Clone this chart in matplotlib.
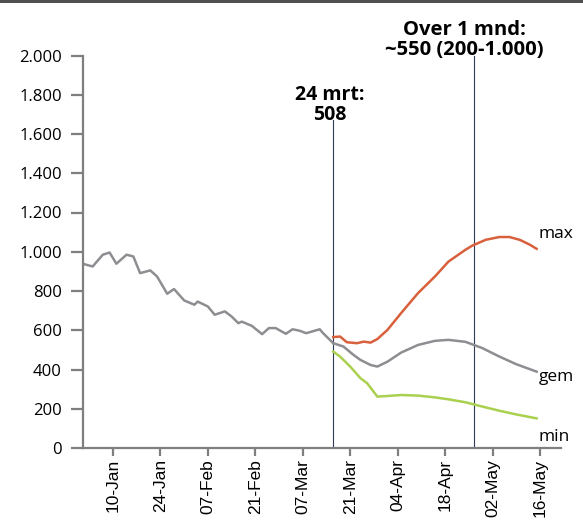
import numpy as np
import matplotlib
matplotlib.use("Agg")
import matplotlib.pyplot as plt
import matplotlib.dates as mdates
from matplotlib.ticker import FuncFormatter, FixedLocator
from matplotlib.patches import Rectangle

# ---- data (days counted from 2021-01-01) ----
hist_days = [0, 3, 6, 8, 10, 13, 15, 17, 20, 22, 25, 27, 30, 33, 34, 37, 39, 42, 44,
             46, 47, 50, 53, 55, 57, 60, 62, 64, 66, 70, 71, 74]
hist_vals = [939, 925, 985, 996, 939, 985, 976, 891, 905, 874, 786, 810, 752, 730, 746,
             721, 679, 696, 670, 636, 644, 622, 580, 611, 611, 582, 605, 598, 585, 605,
             585, 534]

gem_days = [74, 77, 80, 82, 85, 87, 90, 94, 99, 104, 108, 113, 118, 123, 128, 134]
gem_vals = [534, 517, 474, 449, 423, 415, 440, 486, 525, 546, 551, 541, 509, 466, 427, 389]

max_days = [74, 76, 78, 81, 83, 85, 87, 90, 94, 99, 104, 108, 113, 115, 119, 123, 126,
            129, 132, 134]
max_vals = [565, 568, 539, 534, 542, 537, 555, 602, 687, 789, 874, 950, 1010, 1031, 1061,
            1075, 1075, 1061, 1036, 1015]

min_days = [74, 76, 79, 82, 84, 87, 90, 94, 99, 104, 108, 113, 118, 123, 128, 134]
min_vals = [491, 466, 415, 356, 330, 262, 265, 270, 267, 258, 248, 233, 211, 190, 171, 151]

tick_labels = ["10-Jan", "24-Jan", "07-Feb", "21-Feb", "07-Mar", "21-Mar", "04-Apr",
               "18-Apr", "02-May", "16-May"]
y_ticks = [0, 200, 400, 600, 800, 1000, 1200, 1400, 1600, 1800, 2000]

marker1_day, marker1_top = 74, 1670
marker2_day, marker2_top = 115.5, 2000
marker1_text = "24 mrt:\n508"
marker2_text = "Over 1 mnd:\n~550 (200-1.000)"

base = mdates.date2num(np.datetime64("2021-01-01"))


def to_dates(days):
    return base + np.asarray(days, dtype=float)


fig = plt.figure(figsize=(5.83, 5.26), dpi=100)
ax = fig.add_axes([82.5 / 583, 1 - 448 / 526, (561 - 82.5) / 583, (448 - 55.5) / 526])

gray = "#8e8e92"
red = "#d8603c"
green = "#a9d04e"
navy = "#2e3a55"
spine_c = "#7f7f7f"

ax.plot(to_dates(hist_days), hist_vals, color=gray, lw=1.8, solid_joinstyle="round")
ax.plot(to_dates(gem_days), gem_vals, color=gray, lw=1.8)
ax.plot(to_dates(max_days), max_vals, color=red, lw=1.8)
ax.plot(to_dates(min_days), min_vals, color=green, lw=1.8)

for d, top in [(marker1_day, marker1_top), (marker2_day, marker2_top)]:
    x = to_dates([d])[0]
    ax.plot([x, x], [0, top], color=navy, lw=0.8, clip_on=False, zorder=1)

ax.text(to_dates([marker1_day])[0] - 1, marker1_top - 25, marker1_text, ha="center",
        va="bottom", fontsize=14, fontweight="bold", family="Open Sans",
        linespacing=1.0)
ax.text(to_dates([marker2_day])[0] - 2.8, marker2_top - 25, marker2_text, ha="center",
        va="bottom", fontsize=14.6, fontweight="bold", family="Open Sans",
        linespacing=1.05, clip_on=False)

# series labels
lbl_x = to_dates([134.6])[0]
ax.text(lbl_x, 1090, "max", fontsize=12.5, family="Open Sans", va="center", ha="left")
ax.text(lbl_x, 360, "gem", fontsize=12.5, family="Open Sans", va="center", ha="left")
ax.text(lbl_x, 55, "min", fontsize=12.5, family="Open Sans", va="center", ha="left")

ax.set_xlim(to_dates([0])[0], to_dates([141.2])[0])
ax.set_ylim(0, 2000)

tick_days = [9 + 14 * i for i in range(len(tick_labels))]
ax.xaxis.set_major_locator(FixedLocator(to_dates(tick_days)))
ax.set_xticklabels(tick_labels, rotation=90, family="Liberation Sans", fontsize=12.5)
ax.set_yticks(y_ticks)
ax.yaxis.set_major_formatter(FuncFormatter(lambda v, p: f"{int(v):,}".replace(",", ".")))
for lab in ax.get_yticklabels():
    lab.set_family("Open Sans")
    lab.set_fontsize(12)

for s in ["top", "right"]:
    ax.spines[s].set_visible(False)
for s in ["left", "bottom"]:
    ax.spines[s].set_color(spine_c)
    ax.spines[s].set_linewidth(1.6)
ax.tick_params(axis="x", direction="out", length=6, width=1.6, color=spine_c, pad=2)
ax.tick_params(axis="y", direction="out", length=9, width=1.6, color=spine_c, pad=6)

fig.add_artist(Rectangle((0, 1 - 3 / 526), 1, 3 / 526, transform=fig.transFigure,
                         color="#505050", lw=0))

fig.savefig("out.png", dpi=100)
